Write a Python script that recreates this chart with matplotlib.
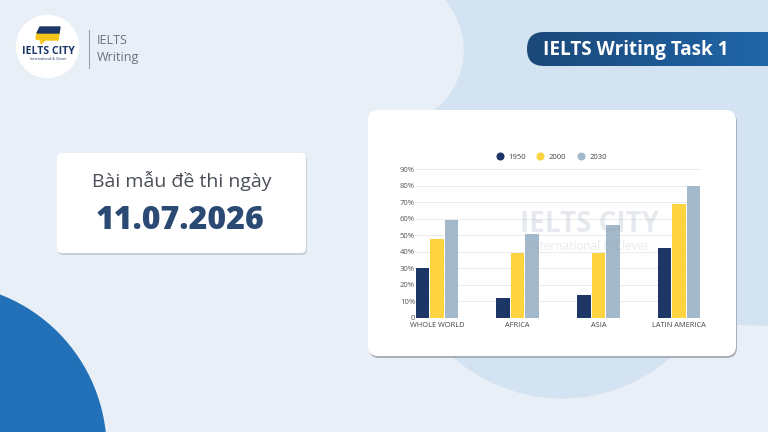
import numpy as np
import matplotlib
matplotlib.use("Agg")
import matplotlib.pyplot as plt
from matplotlib.patches import Circle, Ellipse, Rectangle, FancyBboxPatch, Polygon
from matplotlib.lines import Line2D

plt.rcParams['font.family'] = ['Open Sans', 'DejaVu Sans']

# dữ liệu biểu đồ
regions = ['WHOLE WORLD', 'AFRICA', 'ASIA', 'LATIN AMERICA']
years = ['1950', '2000', '2030']
v1950 = [30, 12, 14, 42]
v2000 = [48, 39, 39, 69]
v2030 = [59, 51, 56, 80]
yticks = [0, 10, 20, 30, 40, 50, 60, 70, 80, 90]
ytick_labels = ['0', '10%', '20%', '30%', '40%', '50%', '60%', '70%', '80%', '90%']

colors = ['#1c3766', '#fdd33f', '#a3b8c9']

fig = plt.figure(figsize=(7.68, 4.32), dpi=100)

# nền: toạ độ pixel
bg = fig.add_axes([0, 0, 1, 1])
bg.set_xlim(0, 768)
bg.set_ylim(432, 0)
bg.axis('off')
bg.set_zorder(0)

light = '#e8eff7'
dark = '#d4e3f1'
bg.add_patch(Rectangle((0, 0), 768, 432, color=light, zorder=0))
bg.add_patch(Rectangle((430, 0), 338, 150, color=dark, zorder=1))
bg.add_patch(Ellipse((768, 150), 660, 350, color=dark, zorder=1))
bg.add_patch(Ellipse((562, 170), 380, 456, color=dark, zorder=1))
bg.add_patch(Circle((388, 50), 75, color=light, zorder=2))
bg.add_patch(Circle((-60, 450), 166, color='#2271b8', zorder=2))

# logo
bg.add_patch(Circle((47.5, 46.5), 31, color='white', zorder=3))
bg.add_patch(Polygon([[37, 33], [59, 33], [58, 40], [45, 40], [41, 44], [41, 40], [36, 39]],
                     closed=True, color='#f5c518', zorder=4))
bg.add_patch(Polygon([[40, 27], [60, 27], [59, 33], [37, 33]], closed=True,
                     color='#1c3766', zorder=5))
bg.text(48, 52, 'IELTS CITY', ha='center', va='center', fontsize=7.6,
        fontweight='bold', color='#1c3766', zorder=5)
bg.text(48, 58.5, 'International & Clever', ha='center', va='center', fontsize=2.6,
        color='#1c3766', zorder=5)
bg.plot([89, 89], [30, 68], color='#9aa3ad', lw=0.8, zorder=3)
bg.text(97, 41, 'IELTS', ha='left', va='center', fontsize=9, color='#6b7079', zorder=3)
bg.text(97, 57, 'Writing', ha='left', va='center', fontsize=9, color='#6b7079', zorder=3)

# thanh tiêu đề
pill = FancyBboxPatch((527, 32), 300, 34, boxstyle='round,pad=0,rounding_size=17',
                      facecolor='none', edgecolor='none', zorder=3)
bg.add_patch(pill)
grad = np.linspace(0, 1, 256).reshape(1, -1)
cmap = matplotlib.colors.LinearSegmentedColormap.from_list('hd', ['#1b4879', '#2066a8'])
im = bg.imshow(grad, extent=[527, 768, 66, 32], cmap=cmap, aspect='auto', zorder=3)
im.set_clip_path(pill)
bg.text(543, 49.5, 'IELTS Writing Task 1', ha='left', va='center', fontsize=13.6,
        fontweight='bold', color='white', zorder=4)

# thẻ ngày
bg.add_patch(FancyBboxPatch((58, 155), 249, 100, boxstyle='round,pad=0,rounding_size=5',
                            facecolor='#c9d0d8', edgecolor='none', zorder=3))
bg.add_patch(FancyBboxPatch((57, 153), 249, 100, boxstyle='round,pad=0,rounding_size=5',
                            facecolor='white', edgecolor='none', zorder=4))
bg.text(182, 181, 'Bài mẫu đề thi ngày', ha='center', va='center', fontsize=14,
        color='#4a4f57', zorder=5)
bg.text(180, 221, '11.07.2026', ha='center', va='center', fontsize=23,
        fontweight='heavy', color='#2b4a73', zorder=5)

# thẻ biểu đồ
bg.add_patch(FancyBboxPatch((369, 112), 368, 246, boxstyle='round,pad=0,rounding_size=10',
                            facecolor='#a9b0b8', edgecolor='none', zorder=3))
bg.add_patch(FancyBboxPatch((368, 110), 368, 246, boxstyle='round,pad=0,rounding_size=10',
                            facecolor='white', edgecolor='none', zorder=4))

# biểu đồ cột
ax = fig.add_axes([415 / 768, 114 / 432, 286 / 768, 149 / 432])
ax.set_zorder(2)
ax.patch.set_alpha(0)
x = np.arange(len(regions))
w = 0.168
for i, (vals, yr) in enumerate(zip([v1950, v2000, v2030], years)):
    ax.bar(x + (i - 1) * 0.18, vals, width=w, color=colors[i], label=yr, zorder=3)
ax.set_xlim(-0.273, 3.273)
ax.set_ylim(0, 90)
ax.set_yticks(yticks)
ax.set_yticklabels(ytick_labels)
ax.set_xticks(x)
ax.set_xticklabels(regions)
ax.tick_params(axis='y', length=0, pad=0, labelsize=5.5, labelcolor='#555555')
ax.tick_params(axis='x', length=0, pad=3, labelsize=5.3, labelcolor='#444444')
ax.grid(axis='y', color='#e8e8e8', lw=0.6, zorder=0)
for s in ax.spines.values():
    s.set_visible(False)

# watermark
ax.text(0.61, 0.63, 'IELTS CITY', transform=ax.transAxes, ha='center', va='center',
        fontsize=20, fontweight='bold', color='#8fa3b8', alpha=0.22, zorder=4)
ax.text(0.61, 0.48, 'International & Clever', transform=ax.transAxes, ha='center',
        va='center', fontsize=8.5, color='#8fa3b8', alpha=0.22, zorder=4)

# chú giải dạng chấm tròn
handles = [Line2D([], [], marker='o', ls='', color=c, markersize=4.8) for c in colors]
ax.legend(handles, years, loc='center', bbox_to_anchor=(0.47, 1.08), ncol=3,
          frameon=False, fontsize=5.5, handletextpad=0.1, columnspacing=0.9,
          labelcolor='#444444')

fig.savefig('out.png', dpi=100)
